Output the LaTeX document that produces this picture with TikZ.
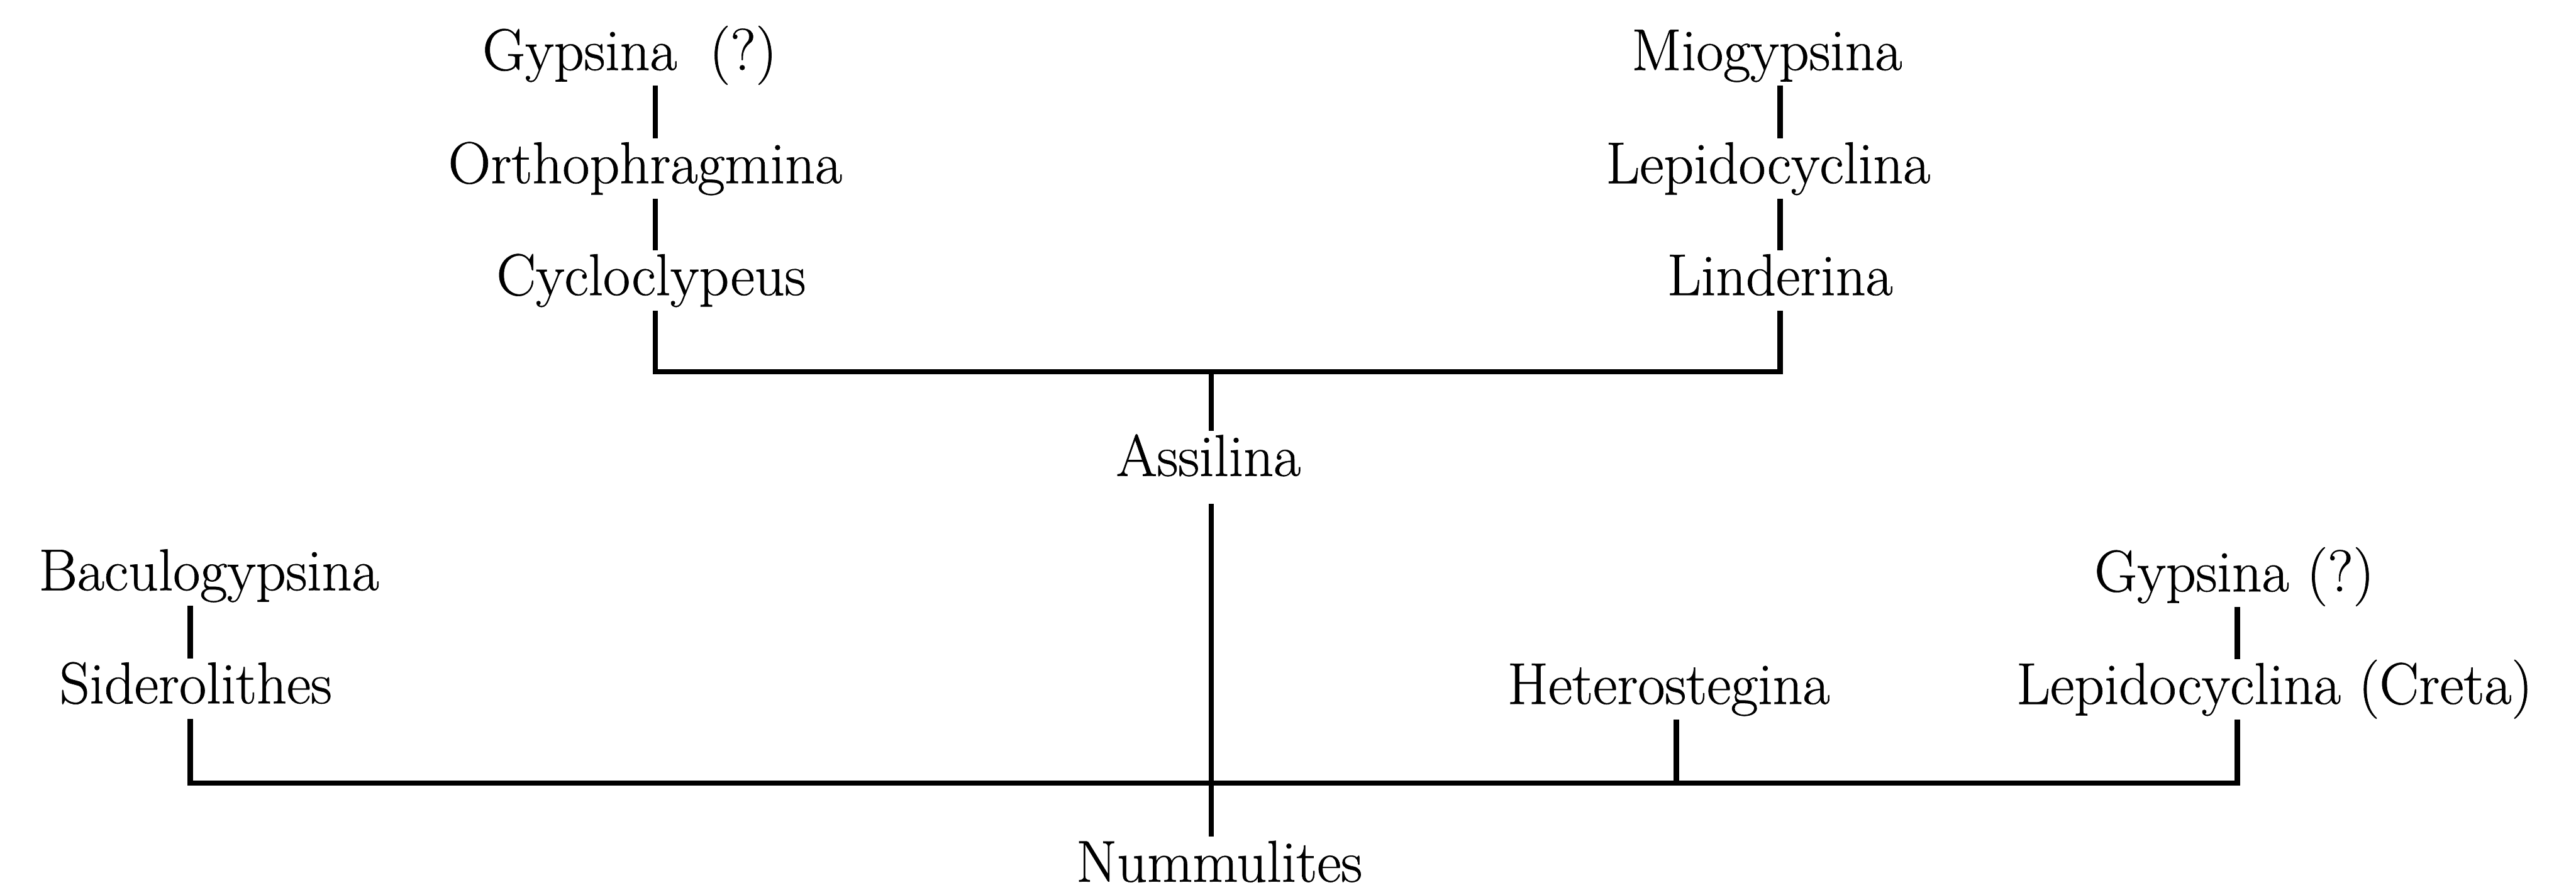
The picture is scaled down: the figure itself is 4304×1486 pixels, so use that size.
\documentclass[tikz,border=0pt]{standalone}
\usepackage{fontspec}
% slightly heavier strokes for the genus names
\newfontfamily\taxfont{Latin Modern Roman}[RawFeature={embolden=0.7}]
\begin{document}
\begin{tikzpicture}[x=0.01cm,y=-0.01cm,
  taxon/.style={font=\fontsize{28}{34}\taxfont, inner sep=0pt, outer sep=1.8pt,
                text height=19.6pt, text depth=5.6pt, anchor=base},
  link/.style={line width=2.5pt}]
\useasboundingbox (0,0) rectangle (4304,1486);

% genera
\node[taxon] (gyA)  at (1052,117)  {Gypsina\hspace{0.55em}(?)};
\node[taxon] (orth) at (1078,306)  {Orthophragmina};
\node[taxon] (cycl) at (1088,493)  {Cycloclypeus};
\node[taxon] (miog) at (2952,117)  {Miogypsina};
\node[taxon] (lepA) at (2954,306)  {Lepidocyclina};
\node[taxon] (lind) at (2974,493)  {Linderina};
\node[taxon] (assi) at (2019,795)  {Assilina};
\node[taxon] (bacu) at (349,986)   {Baculogypsina};
\node[taxon] (side) at (327,1175)  {Siderolithes};
\node[taxon] (gyB)  at (3733,988)  {Gypsina (?)};
\node[taxon] (hete) at (2788,1176) {Heterostegina};
\node[taxon] (lepB) at (3800,1176) {Lepidocyclina (Creta)};
\node[taxon] (numm) at (2037,1473) {Nummulites};

% branch columns and the two cross bars
\coordinate (cL) at (1095,0);
\coordinate (cR) at (2974,0);
\coordinate (cM) at (2024,0);
\coordinate (cS) at (318,0);
\coordinate (cH) at (2801,0);
\coordinate (cC) at (3738,0);
\coordinate (upper) at (0,621);
\coordinate (lower) at (0,1308);
\coordinate (assiLow) at ([yshift=-6pt]assi.south);

% upper left lineage
\draw[link] (gyA.south -| cL) -- (orth.north -| cL);
\draw[link] (orth.south -| cL) -- (cycl.north -| cL);
% upper right lineage
\draw[link] (miog.south -| cR) -- (lepA.north -| cR);
\draw[link] (lepA.south -| cR) -- (lind.north -| cR);
% upper bar
\draw[link] (cycl.south -| cL) -- (cL |- upper) -- (cR |- upper) -- (lind.south -| cR);
\draw[link] (cM |- upper) -- (assi.north -| cM);
% stem to Nummulites
\draw[link] (assiLow -| cM) -- (numm.north -| cM);
% lower lineages
\draw[link] (bacu.south -| cS) -- (side.north -| cS);
\draw[link] (gyB.south -| cC) -- (lepB.north -| cC);
% lower bar
\draw[link] (side.south -| cS) -- (cS |- lower) -- (cC |- lower) -- (lepB.south -| cC);
\draw[link] (hete.south -| cH) -- (cH |- lower);
\end{tikzpicture}
\end{document}
